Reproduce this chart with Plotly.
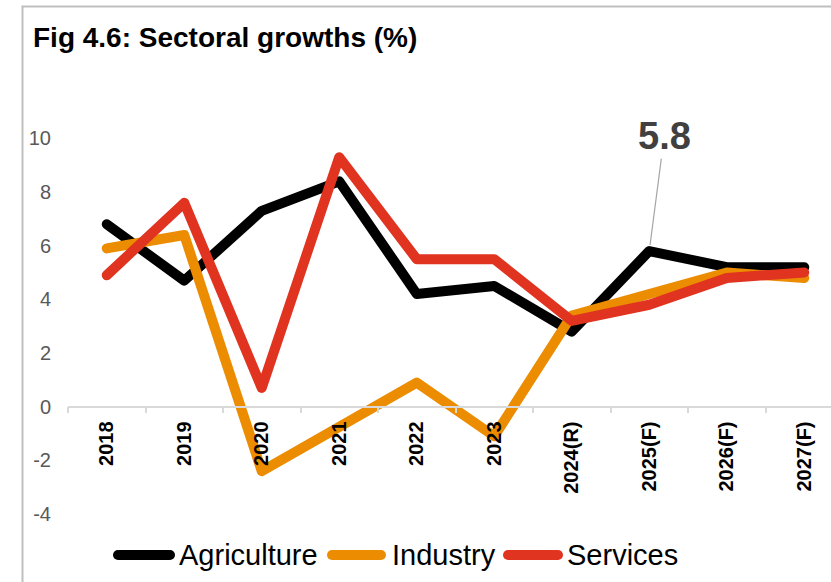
import plotly.graph_objects as go

# Sectoral growth rates (%), actuals, revision and forecasts
years = ["2018", "2019", "2020", "2021", "2022", "2023",
         "2024(R)", "2025(F)", "2026(F)", "2027(F)"]
agriculture = [6.8, 4.7, 7.3, 8.4, 4.2, 4.5, 2.8, 5.8, 5.2, 5.2]
industry = [5.9, 6.4, -2.4, -0.8, 0.9, -1.1, 3.4, 4.2, 5.0, 4.8]
services = [4.9, 7.6, 0.7, 9.3, 5.5, 5.5, 3.2, 3.8, 4.8, 5.0]

series_names = ["Agriculture", "Industry", "Services"]
series_colors = ["#000000", "#EC8C00", "#E03320"]
y_ticks = [-4, -2, 0, 2, 4, 6, 8, 10]

W, H = 831, 582
ML, MR, MT, MB = 68, 0, 111, 40
PW, PH = W - ML - MR, H - MT - MB
Y_RANGE = [-5.04, 11.02]
X_RANGE = [-0.5, 9.345]

FONT = "Liberation Sans, Arial, sans-serif"


def px_x(p):
    return (p - ML) / PW


def px_y(p):
    return (H - MB - p) / PH


fig = go.Figure()
for name, vals, col in zip(series_names, [agriculture, industry, services], series_colors):
    fig.add_trace(go.Scatter(
        x=years, y=vals, mode="lines", name=name,
        line=dict(color=col, width=10), showlegend=False,
        hoverinfo="x+y+name",
    ))

# label on the 2025 agriculture forecast
fig.add_annotation(
    x=years[7], y=agriculture[7], text="<b>%.1f</b>" % agriculture[7],
    showarrow=True, arrowhead=0, arrowwidth=1.2, arrowcolor="#A6A6A6",
    ax=15, ay=-115, standoff=6,
    font=dict(family=FONT, size=38, color="#404040"),
)

# chart frame (left and top edges)
frame = dict(color="#BFBFBF", width=2)
fig.add_shape(type="line", xref="paper", yref="paper",
              x0=px_x(22.5), x1=px_x(22.5), y0=px_y(6.5), y1=px_y(590), line=frame)
fig.add_shape(type="line", xref="paper", yref="paper",
              x0=px_x(22.5), x1=1.05, y0=px_y(6.5), y1=px_y(6.5), line=frame)

# legend keys along the bottom
legend_y = 555
key_x = [(118, 170), (332, 381), (508, 558)]
text_x = [177, 390, 565]
for (a, b), tx, name, col in zip(key_x, text_x, series_names, series_colors):
    fig.add_shape(type="line", xref="paper", yref="paper",
                  x0=px_x(a), x1=px_x(b), y0=px_y(legend_y), y1=px_y(legend_y),
                  line=dict(color=col, width=10))
    fig.add_annotation(xref="paper", yref="paper", x=px_x(tx), y=px_y(legend_y),
                       xanchor="left", yanchor="middle", showarrow=False,
                       text=name, font=dict(family=FONT, size=29, color="#000000"))

fig.update_layout(
    width=W, height=H,
    margin=dict(l=ML, r=MR, t=MT, b=MB, pad=0),
    paper_bgcolor="white", plot_bgcolor="white",
    title=dict(
        text="<b>Fig 4.6: Sectoral growths (%)</b>",
        x=33 / W, xref="container", xanchor="left",
        y=1 - 37 / H, yref="container", yanchor="middle",
        font=dict(family=FONT, size=28, color="#000000"),
    ),
    font=dict(family=FONT),
    xaxis=dict(
        type="category", range=X_RANGE,
        anchor="free", position=(0 - Y_RANGE[0]) / (Y_RANGE[1] - Y_RANGE[0]),
        showline=True, linecolor="#D9D9D9", linewidth=1.5,
        ticks="outside", tickson="boundaries", ticklen=6, tickcolor="#D9D9D9",
        tickwidth=1.5, tickangle=-90, showgrid=False, zeroline=False,
        tickfont=dict(family=FONT, size=20, color="#000000", weight="bold"),
        ticklabelstandoff=6, layer="above traces",
    ),
    yaxis=dict(
        range=Y_RANGE, tickvals=y_ticks, ticktext=[str(v) for v in y_ticks],
        showgrid=False, zeroline=False,
        showline=False, ticks="", ticklabelstandoff=16,
        tickfont=dict(family=FONT, size=20, color="#595959"),
    ),
)

round_caps = (
    "var s=document.createElement('style');"
    "s.textContent='.scatterlayer .js-line{stroke-linejoin:round!important;"
    "stroke-linecap:round!important}.shapelayer path{stroke-linecap:round!important}';"
    "document.head.appendChild(s);"
)

fig.write_html("out.html", post_script=round_caps)
